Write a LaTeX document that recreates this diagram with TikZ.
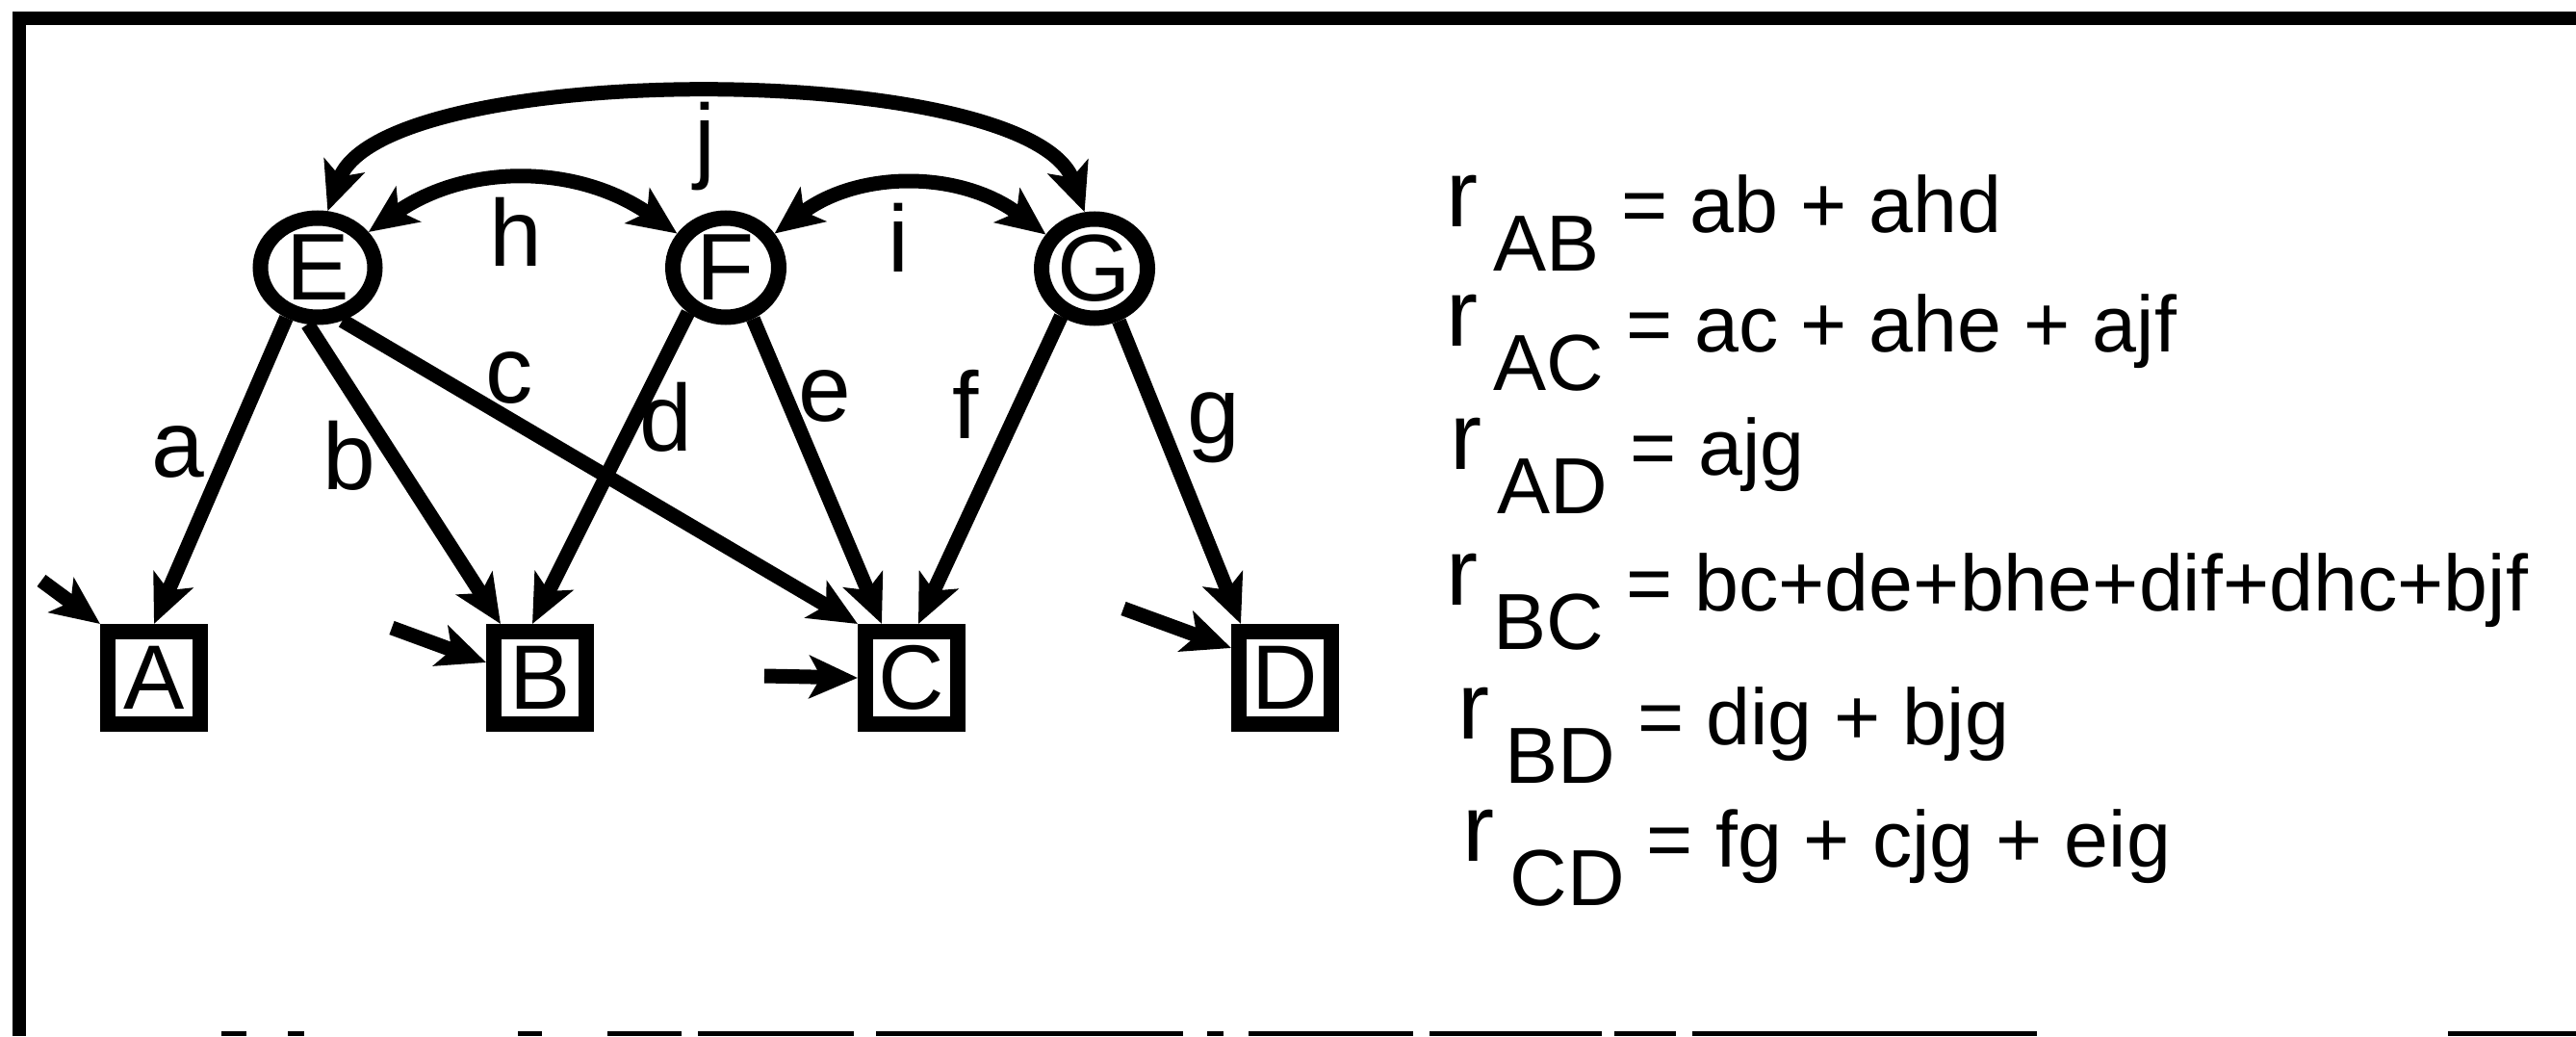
\documentclass[tikz,border=0pt]{standalone}
\usepackage{fontspec}
\setmainfont{Liberation Sans}
\usepackage{tikz}
\usetikzlibrary{shapes.geometric,arrows.meta}

\newcommand{\rsub}[1]{\raisebox{0.06cm}{\scalebox{1.2}{r}}\hspace{0.16cm}\raisebox{-0.4cm}{#1}}

\tikzset{
    latent/.style={draw, ellipse, line width=0.16cm, minimum width=1.1cm, minimum height=1.03cm, inner sep=0pt, font=\fontsize{28}{30}\selectfont},
    observed/.style={draw, rectangle, line width=0.16cm, minimum size=0.96cm, inner sep=0pt, font=\fontsize{27}{30}\selectfont},
    effect/.style={line width=0.15cm, -{Stealth[length=0.5cm,width=0.44cm,inset=0.12cm]}},
    corr/.style={line width=0.15cm, {Stealth[length=0.5cm,width=0.44cm,inset=0.12cm]}-{Stealth[length=0.5cm,width=0.44cm,inset=0.12cm]}},
    lbl/.style={inner sep=0pt, font=\fontsize{28}{30}\selectfont},
    eqn/.style={anchor=base west, inner sep=0pt, font=\fontsize{23.5}{25}\selectfont}
}

\begin{document}
\begin{tikzpicture}
    \useasboundingbox (0,0) rectangle (26.76,10.76);

    % Frame
    \draw[line width=0.14cm] (0.195,0) -- (0.195,10.57) -- (26.76,10.57);
    \foreach \xa/\xb in {2.30/2.56, 2.99/3.16, 5.38/5.63, 6.31/7.08, 7.25/8.87, 9.10/12.29, 12.54/12.71, 12.97/14.68, 14.85/16.64, 16.77/17.41, 17.58/21.16, 25.43/26.76}
        \draw[line width=0.05cm] (\xa,0.025) -- (\xb,0.025);

    % Common factors
    \node[latent, minimum width=1.19cm] (E) at (3.30,7.98) {E};
    \node[latent] (F) at (7.54,7.98) {F};
    \node[latent] (G) at (11.37,7.97) {G};

    % Measured variables
    \node[observed] (A) at (1.60,3.72) {A};
    \node[observed] (B) at (5.61,3.72) {B};
    \node[observed] (C) at (9.47,3.72) {C};
    \node[observed] (D) at (13.35,3.72) {D};

    % Residual inputs
    \coordinate (inA) at (0.43,4.73);
    \coordinate (inB) at (4.07,4.24);
    \coordinate (inC) at (7.94,3.74);
    \coordinate (inD) at (11.67,4.44);
    \draw[effect] (inA) -- (A.north west);
    \draw[effect] (inB) -- ([yshift=0.16cm]B.west);
    \draw[effect] (inC) -- (C.west);
    \draw[effect] (inD) -- ([yshift=0.31cm]D.west);

    % Paths
    \draw[effect] (E.-122) -- (A.north);
    \draw[effect] (E.-100) -- ([xshift=-0.41cm]B.north);
    \draw[effect] (E.-65) -- (C.north west);
    \draw[effect] (F.-130) -- ([xshift=-0.08cm]B.north);
    \draw[effect] (F.-62) -- ([xshift=-0.31cm]C.north);
    \draw[effect] (G.-125) -- ([xshift=0.07cm]C.north);
    \draw[effect] (G.-65) -- ([xshift=-0.46cm]D.north);

    % Correlations
    \draw[corr] (E.35) to[out=35, in=145] (F.145);
    \draw[corr] (F.35) to[out=37, in=143] (G.145);
    \draw[corr] (E.80) to[out=70, in=110, looseness=0.55] (G.100);

    % Path labels
    \node[lbl] (la) at (1.85,6.06) {a};
    \node[lbl] (lb) at (3.63,6.03) {b};
    \node[lbl] (lc) at (5.29,6.83) {c};
    \node[lbl] (ld) at (6.92,6.43) {d};
    \node[lbl] (le) at (8.57,6.64) {e};
    \node[lbl] (lf) at (10.03,6.56) {f};
    \node[lbl] (lg) at (12.61,6.32) {g};
    \node[lbl] (lh) at (5.36,8.35) {h};
    \node[lbl] (li) at (9.33,8.29) {i};
    \node[lbl] (lj) at (7.32,9.24) {j};

    % Correlation equations
    \node[eqn] (eqAB) at (15.02,8.34) {\rsub{AB} = ab + ahd};
    \node[eqn] (eqAC) at (15.02,7.10) {\rsub{AC} = ac + ahe + ajf};
    \node[eqn] (eqAD) at (15.06,5.82) {\rsub{AD} = ajg};
    \node[eqn] (eqBC) at (15.02,4.42) {\rsub{BC} = bc+de+bhe+dif+dhc+bjf};
    \node[eqn] (eqBD) at (15.14,3.03) {\rsub{BD} = dig + bjg};
    \node[eqn] (eqCD) at (15.19,1.76) {\rsub{CD} = fg + cjg + eig};
\end{tikzpicture}
\end{document}
